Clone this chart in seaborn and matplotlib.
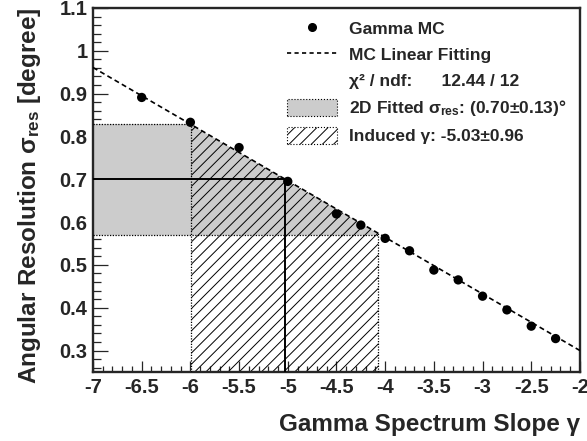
"""
Angular resolution vs gamma spectrum slope, with MC linear fit.
"""

import numpy as np
import matplotlib
matplotlib.use('Agg')
import matplotlib.pyplot as plt
from matplotlib.lines import Line2D
from matplotlib.patches import Patch
from matplotlib.ticker import MultipleLocator
import seaborn as sns

# MC points
gamma_mc = [-6.5, -6.0, -5.5, -5.0, -4.5, -4.25, -4.0, -3.75, -3.5, -3.25, -3.0, -2.75, -2.5, -2.25]
sigma_mc = [0.891, 0.833, 0.774, 0.695, 0.619, 0.593, 0.562, 0.533, 0.488, 0.465, 0.427, 0.395, 0.357, 0.328]

# linear fit ends (x = -7 and x = -2)
fit_x = [-7.0, -2.0]
fit_y = [0.961, 0.300]

# 2D fitted resolution and induced slope
sigma_fit = 0.70
sigma_err = 0.13
gamma_ind = -5.03
gamma_err = 0.96

x_ticks = [-7, -6.5, -6, -5.5, -5, -4.5, -4, -3.5, -3, -2.5, -2]
y_ticks = [0.3, 0.4, 0.5, 0.6, 0.7, 0.8, 0.9, 1.0, 1.1]
x_tick_labels = ['-7', '-6.5', '-6', '-5.5', '-5', '-4.5', '-4', '-3.5', '-3', '-2.5', '-2']
y_tick_labels = ['0.3', '0.4', '0.5', '0.6', '0.7', '0.8', '0.9', '1', '1.1']

x_lim = (-7, -2)
y_lim = (0.25, 1.1)

sns.set_style('ticks')
plt.rcParams['font.family'] = ['Liberation Sans', 'DejaVu Sans']
plt.rcParams['font.weight'] = 'bold'
plt.rcParams['mathtext.fontset'] = 'custom'
plt.rcParams['mathtext.rm'] = 'Liberation Sans:bold'
plt.rcParams['mathtext.bf'] = 'Liberation Sans:bold'
plt.rcParams['mathtext.it'] = 'Liberation Sans:bold:italic'
plt.rcParams['hatch.linewidth'] = 0.7


def fit_line(x):
    return np.interp(x, fit_x, fit_y)


fig, ax = plt.subplots(figsize=(5.87, 4.41), dpi=100)
fig.subplots_adjust(left=0.1584, right=0.988, top=0.982, bottom=0.1565)

GREY = '#cccccc'
dotted = (0, (1, 1.2))

s_lo, s_hi = sigma_fit - sigma_err, sigma_fit + sigma_err
g_lo, g_hi = gamma_ind - gamma_err, gamma_ind + gamma_err

# grey band of the fitted sigma, capped by the fit line
xs = np.linspace(x_lim[0], g_hi, 300)
top = np.clip(np.minimum(s_hi, fit_line(xs)), s_lo, None)
ax.fill_between(xs, s_lo, top, color=GREY, lw=0, zorder=1)

# hatched band of the induced gamma, below the fit line
xs2 = np.linspace(g_lo, g_hi, 300)
ax.fill_between(xs2, y_lim[0], fit_line(xs2), facecolor='none', edgecolor='black',
                hatch='///', lw=0, zorder=2)

# dotted edges
x_cap = np.interp(s_hi, fit_y[::-1], fit_x[::-1])
ax.plot([x_lim[0], x_cap], [s_hi, s_hi], color='black', ls=dotted, lw=0.9, zorder=3)
ax.plot([x_lim[0], g_hi], [s_lo, s_lo], color='black', ls=dotted, lw=0.9, zorder=3)
ax.plot([g_lo, g_lo], [y_lim[0], fit_line(g_lo)], color='black', ls=dotted, lw=0.9, zorder=3)
ax.plot([g_hi, g_hi], [y_lim[0], fit_line(g_hi)], color='black', ls=dotted, lw=0.9, zorder=3)

# solid cross lines
ax.plot([x_lim[0], gamma_ind], [sigma_fit, sigma_fit], color='black', lw=1.4, zorder=4)
ax.plot([gamma_ind, gamma_ind], [y_lim[0], sigma_fit], color='black', lw=1.4, zorder=4)

# fit line and MC points
sns.lineplot(x=fit_x, y=fit_y, ax=ax, color='black', lw=1.2, zorder=5)
ax.lines[-1].set_linestyle((0, (3, 2)))
sns.scatterplot(x=gamma_mc, y=sigma_mc, ax=ax, color='black', s=45, edgecolor='none', zorder=6)

ax.set_xlim(*x_lim)
ax.set_ylim(*y_lim)
ax.set_xticks(x_ticks)
ax.set_xticklabels(x_tick_labels)
ax.set_yticks(y_ticks)
ax.set_yticklabels(y_tick_labels)
ax.xaxis.set_minor_locator(MultipleLocator(0.1))
ax.yaxis.set_minor_locator(MultipleLocator(0.02))

ax.tick_params(axis='x', which='major', direction='in', length=8, width=0.9,
               labelsize=14.5, pad=4, top=False)
ax.tick_params(axis='x', which='minor', direction='in', length=4, width=0.9, top=False)
ax.tick_params(axis='y', which='major', direction='in', length=11, width=0.9,
               labelsize=14.5, pad=4, right=False)
ax.tick_params(axis='y', which='minor', direction='in', length=5.5, width=0.9, right=False)
for sp in ax.spines.values():
    sp.set_linewidth(1.7)
    sp.set_visible(True)

ax.set_xlabel('Gamma Spectrum Slope γ', fontsize=17.5, fontweight='bold', loc='right', labelpad=12)
ax.set_ylabel('Angular Resolution σ$_{\\mathbf{res}}$ [degree]', fontsize=17.5,
              fontweight='bold', loc='top', labelpad=12)

handles = [
    Line2D([], [], marker='o', color='black', ls='none', markersize=5.5),
    Line2D([], [], color='black', ls=(0, (2.5, 2)), lw=1.2),
    Line2D([], [], ls='none'),
    Patch(facecolor=GREY, edgecolor='black', linestyle=':', lw=0.8),
    Patch(facecolor='white', edgecolor='black', hatch='///', linestyle=':', lw=0.8),
]
labels = [
    'Gamma MC',
    'MC Linear Fitting',
    'χ² / ndf:      12.44 / 12',
    '2D Fitted σ$_{\\mathbf{res}}$: (0.70±0.13)°',
    'Induced γ: -5.03±0.96',
]
ax.legend(handles, labels, loc='upper left', bbox_to_anchor=(0.398, 0.968),
          frameon=False, fontsize=12.5, handlelength=2.9, handleheight=1.15,
          handletextpad=0.7, labelspacing=0.5, borderpad=0, borderaxespad=0)

fig.savefig('out.png', dpi=100)
